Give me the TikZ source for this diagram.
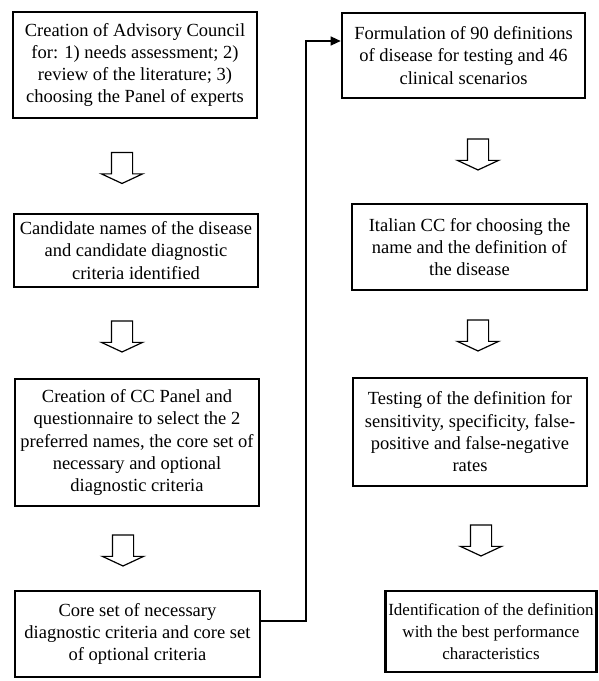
\documentclass[tikz,border=0pt]{standalone}
\usepackage{fontspec}
\setmainfont{Liberation Serif}
\usetikzlibrary{positioning,arrows.meta,shapes.arrows}

\begin{document}
\begin{tikzpicture}[x=1pt,y=-1pt,
	box/.style={rectangle,draw=black,line width=2.6pt,align=center,inner sep=1pt,font=\fontsize{18.5}{22.3}\selectfont},
	hollow/.style={single arrow,draw=black,line width=1.2pt,rotate=-90,inner xsep=0pt,inner ysep=10pt,minimum height=31pt,single arrow head extend=10pt,single arrow tip angle=130}]
			\useasboundingbox (0,0) rectangle (599,681);

			%left nodes
			\node [box,minimum width=244,minimum height=106] (l1) at (135,65) {Creation of Advisory Council\\for: 1) needs assessment; 2)\\review of the literature; 3)\\choosing the Panel of experts};
			\node [box,minimum width=244,minimum height=73] (l2) at (136,250.5) {Candidate names of the disease\\and candidate diagnostic\\criteria identified};
			\node [box,minimum width=244,minimum height=127] (l3) at (137,442.5) {Creation of CC Panel and\\questionnaire to select the 2\\preferred names, the core set of\\necessary and optional\\diagnostic criteria};
			\node [box,minimum width=245,minimum height=86] (l4) at (137.5,634) {Core set of necessary\\diagnostic criteria and core set\\of optional criteria};

			%right nodes
			\node [box,minimum width=243,minimum height=85] (r1) at (463.5,55.5) {Formulation of 90 definitions\\of disease for testing and 46\\clinical scenarios};
			\node [box,minimum width=235,minimum height=86] (r2) at (469.5,247) {Italian CC for choosing the\\name and the definition of\\the disease};
			\node [box,minimum width=234,minimum height=108] (r3) at (470,432) {Testing of the definition for\\sensitivity, specificity, false-\\positive and false-negative\\rates};
			\node [box,minimum width=211,minimum height=81,font=\fontsize{17}{22.3}\selectfont] (r4) at (491,631.5) {Identification of the definition\\with the best performance\\characteristics};

			%hollow arrows
			\node [hollow] (a1) at (122,165.5) {};
			\node [hollow] (a2) at (122,334) {};
			\node [hollow] (a3) at (123,548) {};
			\node [hollow] (a4) at (478,152) {};
			\node [hollow] (a5) at (478,333) {};
			\node [hollow] (a6) at (481,538) {};

			%edges
			\coordinate (t1) at (306,621);
			\coordinate (t2) at (306,41);
			\draw[line width=1.3pt,-{Triangle[length=10pt,width=9pt]}] (l4.east |- t1) -- (t1) -- (t2) -- (r1.west |- t2);
		\end{tikzpicture}
\end{document}
